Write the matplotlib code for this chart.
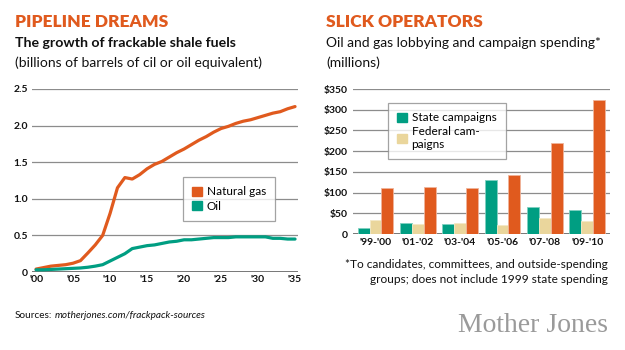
import numpy as np
import matplotlib.pyplot as plt
from matplotlib.patches import Patch

plt.rcParams['font.family'] = ['Lato', 'DejaVu Sans']

# left chart: frackable shale fuels (billions of barrels)
years = list(range(2000, 2036))
natural_gas = [0.04, 0.06, 0.08, 0.09, 0.10, 0.12, 0.155, 0.26, 0.37, 0.50,
               0.80, 1.15, 1.29, 1.27, 1.33, 1.41, 1.47, 1.51, 1.57, 1.63,
               1.68, 1.74, 1.80, 1.85, 1.91, 1.96, 1.99, 2.03, 2.06, 2.08,
               2.11, 2.14, 2.17, 2.19, 2.23, 2.26]
oil = [0.03, 0.03, 0.035, 0.04, 0.045, 0.05, 0.055, 0.065, 0.08, 0.10,
       0.15, 0.20, 0.25, 0.32, 0.34, 0.36, 0.37, 0.39, 0.41, 0.42,
       0.44, 0.44, 0.45, 0.46, 0.47, 0.47, 0.47, 0.48, 0.48, 0.48,
       0.48, 0.48, 0.46, 0.46, 0.45, 0.45]
line_xticks = [2000, 2005, 2010, 2015, 2020, 2025, 2030, 2035]
line_xlabels = ["'00", "'05", "'10", "'15", "'20", "'25", "'30", "'35"]
line_yticks = [0, 0.5, 1.0, 1.5, 2.0, 2.5]
line_ylabels = ['0', '0.5', '1.0', '1.5', '2.0', '2.5']

# right chart: lobbying and campaign spending (millions)
cycles = ["'99-'00", "'01-'02", "'03-'04", "'05-'06", "'07-'08", "'09-'10"]
state = [14, 26, 24, 131, 64, 59]
federal = [35, 25, 27, 22, 39, 31]
lobbying = [112, 114, 110, 143, 220, 324]
bar_yticks = [0, 50, 100, 150, 200, 250, 300, 350]
bar_ylabels = ['0', '$50', '$100', '$150', '$200', '$250', '$300', '$350']

ORANGE = '#e05a1e'
TEAL = '#009e82'
TAN = '#ead69c'
GRID = '#8c8c8c'

W, H = 625, 350
fig = plt.figure(figsize=(6.25, 3.5), dpi=100)


def px(x, y):
    return x / W, 1 - y / H


def style_axes(ax):
    for s in ax.spines.values():
        s.set_visible(False)
    ax.yaxis.grid(True, color=GRID, linewidth=0.9)
    ax.set_axisbelow(True)
    ax.axhline(0, color='#777777', linewidth=1.4, zorder=1)
    ax.tick_params(length=0, labelsize=7.5, colors='#111111')
    for t in ax.get_xticklabels() + ax.get_yticklabels():
        t.set_fontweight('bold')


def boxed_legend(ax, handles, anchor, spacing):
    leg = ax.legend(handles=handles, loc='upper left', bbox_to_anchor=anchor,
                    borderaxespad=0, fontsize=8.5, frameon=True, fancybox=False,
                    handlelength=0.8, handleheight=0.8, handletextpad=0.4,
                    borderpad=0.8, labelspacing=spacing)
    leg.get_frame().set_edgecolor('#8c8c8c')
    leg.get_frame().set_linewidth(0.9)
    return leg


# ---- left chart
ax1 = fig.add_axes([32 / W, 1 - 272 / H, (298 - 32) / W, (272 - 89) / H])
ax1.plot(years, natural_gas, color=ORANGE, linewidth=2.3, solid_capstyle='round', zorder=3)
ax1.plot(years, oil, color=TEAL, linewidth=2.3, solid_capstyle='round', zorder=3)
ax1.set_xlim(1999.45, 2035.4)
ax1.set_ylim(0, 2.5)
ax1.set_xticks(line_xticks)
ax1.set_xticklabels(line_xlabels)
ax1.set_yticks(line_yticks)
ax1.set_yticklabels(line_ylabels)
style_axes(ax1)
ax1.tick_params(axis='x', pad=2)
ax1.tick_params(axis='y', pad=3)
boxed_legend(ax1, [Patch(color=ORANGE, label='Natural gas'), Patch(color=TEAL, label='Oil')],
             ((183 - 32) / 266, (272 - 177) / 183), 0.3)

# ---- right chart
ax2 = fig.add_axes([353 / W, 1 - 234 / H, (610 - 353) / W, (234 - 89) / H])
x = np.arange(len(cycles))
bw = 0.28
ax2.bar(x - bw, state, width=bw, color=TEAL, edgecolor='#7fd0c0', linewidth=0.6, zorder=3)
ax2.bar(x, federal, width=bw, color=TAN, edgecolor='#f3e8c6', linewidth=0.6, zorder=3)
ax2.bar(x + bw, lobbying, width=bw, color=ORANGE, edgecolor='#f0b49a', linewidth=0.6, zorder=3)
ax2.set_xlim(-0.53, 5.54)
ax2.set_ylim(0, 350)
ax2.set_xticks(x)
ax2.set_xticklabels(cycles)
ax2.set_yticks(bar_yticks)
ax2.set_yticklabels(bar_ylabels)
style_axes(ax2)
ax2.tick_params(axis='x', pad=3)
ax2.tick_params(axis='y', pad=4)
boxed_legend(ax2, [Patch(color=TEAL, label='State campaigns'),
                   Patch(color=TAN, label='Federal cam-\npaigns')],
             ((388 - 353) / 257, (234 - 103) / 145), 0.2)

# ---- titles and notes
fig.text(*px(15, 27), 'PIPELINE DREAMS', color=ORANGE, fontsize=12.5,
         fontweight='heavy', va='baseline')
fig.text(*px(15, 47), 'The growth of frackable shale fuels', color='#111111',
         fontsize=10.2, fontweight='bold', va='baseline')
fig.text(*px(15, 67), '(billions of barrels of cil or oil equivalent)', color='#111111',
         fontsize=10, va='baseline')

fig.text(*px(326, 27), 'SLICK OPERATORS', color=ORANGE, fontsize=12.5,
         fontweight='heavy', va='baseline')
fig.text(*px(326, 47), 'Oil and gas lobbying and campaign spending*', color='#111111',
         fontsize=10, va='baseline')
fig.text(*px(326, 67), '(millions)', color='#111111', fontsize=10, va='baseline')

fig.text(*px(608, 268), '*To candidates, committees, and outside-spending', color='#111111',
         fontsize=8.6, ha='right', va='baseline')
fig.text(*px(608, 283), 'groups; does not include 1999 state spending', color='#111111',
         fontsize=8.6, ha='right', va='baseline')

fig.text(*px(15, 318), 'Sources:', color='#111111', fontsize=7.2, va='baseline')
fig.text(*px(55, 318), 'motherjones.com/frackpack-sources', color='#111111',
         fontsize=7.2, style='italic', va='baseline')

fig.text(*px(608, 332), 'Mother Jones', color='#9a9a9a', fontsize=20,
         family=['Liberation Serif', 'DejaVu Serif'], ha='right', va='baseline')

fig.savefig('out.png', dpi=100)
